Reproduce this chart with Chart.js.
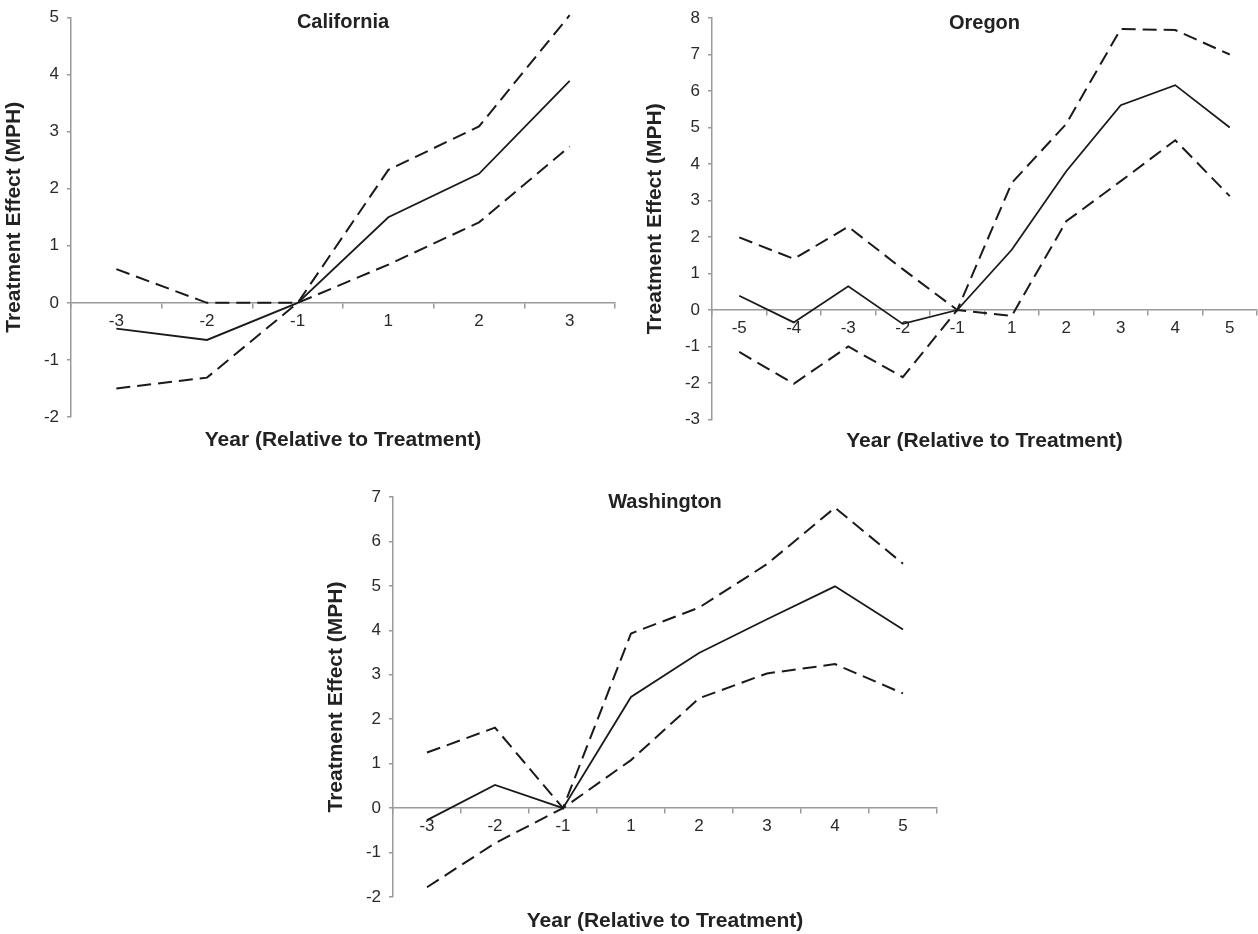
<!DOCTYPE html>
<html>
<head>
<meta charset="utf-8">
<script src="https://cdn.jsdelivr.net/npm/chart.js@4.4.1/dist/chart.umd.min.js"></script>
<style>
body{margin:0;background:#fff;}
#wrap{position:relative;width:1258px;height:934px;overflow:hidden;}
canvas{position:absolute;}
</style>
</head>
<body>
<div id="wrap">
<canvas id="ca" width="625" height="460" style="left:0;top:0"></canvas>
<canvas id="or" width="626" height="460" style="left:641px;top:0"></canvas>
<canvas id="wa" width="625" height="454" style="left:322px;top:480px"></canvas>
</div>
<script>
const caYears = ['-3', '-2', '-1', '1', '2', '3']
const caEffect = [-0.45, -0.65, 0, 1.50, 2.26, 3.89]
const caUpper = [0.59, 0.0, 0, 2.33, 3.09, 5.04]
const caLower = [-1.50, -1.31, 0, 0.67, 1.41, 2.74]

const orYears = ['-5', '-4', '-3', '-2', '-1', '1', '2', '3', '4', '5']
const orEffect = [0.39, -0.34, 0.65, -0.38, 0, 1.65, 3.80, 5.61, 6.16, 5.00]
const orUpper = [1.99, 1.40, 2.28, 1.12, 0, 3.48, 5.10, 7.70, 7.67, 7.00]
const orLower = [-1.15, -2.02, -1.00, -1.84, 0, -0.16, 2.43, 3.53, 4.65, 3.12]

const waYears = ['-3', '-2', '-1', '1', '2', '3', '4', '5']
const waEffect = [-0.27, 0.52, 0, 2.50, 3.49, 4.25, 4.99, 4.02]
const waUpper = [1.25, 1.81, 0, 3.93, 4.51, 5.49, 6.76, 5.50]
const waLower = [-1.78, -0.79, 0, 1.08, 2.47, 3.03, 3.24, 2.58]

const FONT = '"Liberation Sans", Arial, Helvetica, sans-serif'
const AXIS = '#9a9a9a'
const INK = '#1a1a1a'

// panel title sits inside the plot, over the top
const panelTitle = {
    id: 'panelTitle',
    afterDraw(chart, args, opts) {
        const {ctx, chartArea} = chart
        ctx.save()
        ctx.font = 'bold 20px ' + FONT
        ctx.fillStyle = '#222'
        ctx.textAlign = 'center'
        ctx.textBaseline = 'middle'
        ctx.fillText(opts.text, (chartArea.left + chartArea.right) / 2, chartArea.top + 5)
        ctx.restore()
    }
}

function makeChart(id, title, labels, effect, upper, lower, yMin, yMax, padTop, axisHeight, titlePad) {
    const dashed = {borderColor: INK, borderWidth: 2, borderDash: [14, 7], pointRadius: 0, fill: false, clip: false}
    return new Chart(document.getElementById(id), {
        type: 'line',
        data: {
            labels: labels,
            datasets: [
                {label: 'Upper', data: upper, ...dashed},
                {label: 'Lower', data: lower, ...dashed},
                {label: 'Effect', data: effect, borderColor: INK, borderWidth: 1.8, pointRadius: 0, fill: false, clip: false}
            ]
        },
        options: {
            responsive: false,
            animation: false,
            devicePixelRatio: 1,
            layout: {padding: {top: padTop, right: 10, bottom: 0, left: 0}},
            elements: {line: {tension: 0}},
            plugins: {
                legend: {display: false},
                tooltip: {enabled: false},
                panelTitle: {text: title}
            },
            scales: {
                x: {
                    type: 'category',
                    position: {y: 0},
                    offset: true,
                    grid: {
                        offset: true,
                        drawOnChartArea: false,
                        tickLength: 5,
                        lineWidth: 1.5,
                        // no tick mark at the far right end of the axis
                        color: c => c.index >= labels.length ? 'rgba(0,0,0,0)' : AXIS
                    },
                    border: {color: AXIS, width: 1.5},
                    ticks: {font: {family: FONT, size: 17}, color: '#2a2a2a', padding: 3, maxRotation: 0, autoSkip: false},
                    afterFit(s) { s.paddingLeft = 0; s.paddingRight = 0 }
                },
                x2: {
                    type: 'category',
                    position: 'bottom',
                    offset: true,
                    grid: {display: false, drawTicks: false},
                    border: {display: false},
                    ticks: {display: false},
                    title: {
                        display: true,
                        text: 'Year (Relative to Treatment)',
                        font: {family: FONT, size: 21, weight: 'bold'},
                        color: '#222',
                        padding: {top: 0, bottom: titlePad}
                    },
                    afterFit(s) { s.height = axisHeight; s.paddingLeft = 0; s.paddingRight = 0 }
                },
                y: {
                    min: yMin,
                    max: yMax,
                    ticks: {stepSize: 1, font: {family: FONT, size: 17}, color: '#2a2a2a', padding: 8},
                    grid: {drawOnChartArea: false, tickLength: 4, color: AXIS, lineWidth: 1.5},
                    border: {color: AXIS, width: 1.5},
                    title: {
                        display: true,
                        text: 'Treatment Effect (MPH)',
                        font: {family: FONT, size: 21, weight: 'bold'},
                        color: '#222',
                        padding: {top: 2, bottom: 0}
                    },
                    afterFit(s) { s.width = 71; s.paddingTop = 0; s.paddingBottom = 0 }
                }
            }
        },
        plugins: [panelTitle]
    })
}

makeChart('ca', 'California', caYears, caEffect, caUpper, caLower, -2, 5, 17.5, 43, 7.5)
makeChart('or', 'Oregon', orYears, orEffect, orUpper, orLower, -3, 8, 18, 40.5, 6.5)
makeChart('wa', 'Washington', waYears, waEffect, waUpper, waLower, -2, 7, 17, 37, 0.5)
</script>
</body>
</html>
